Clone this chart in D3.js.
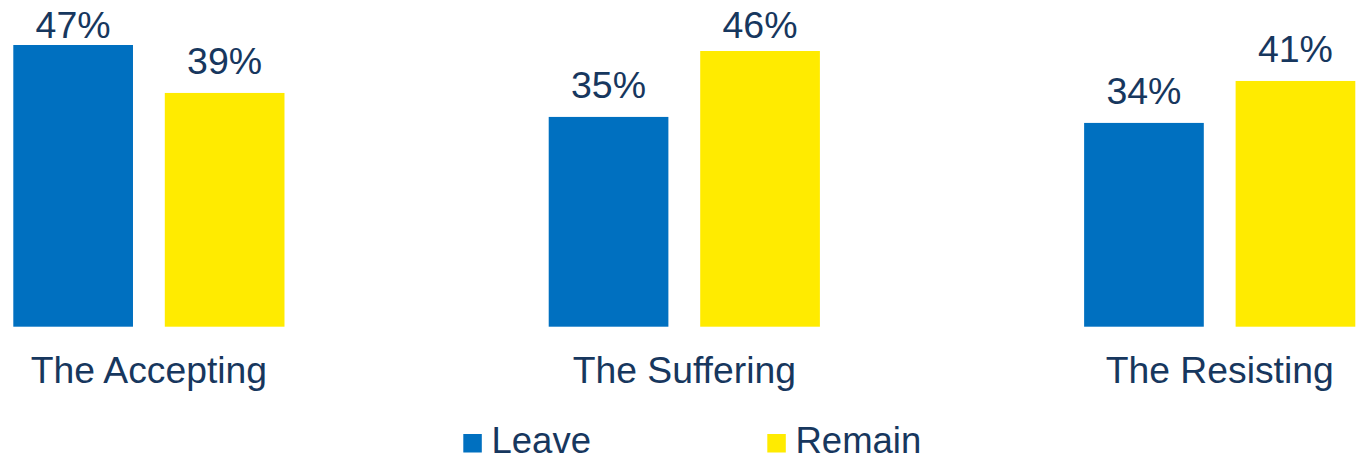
<!DOCTYPE html>
<html>
<head>
<meta charset="utf-8">
<script src="https://cdn.jsdelivr.net/npm/d3@7"></script>
<style>
  html, body { margin: 0; padding: 0; background: #fff; }
  svg { display: block; }
  text { font-family: "Liberation Sans", Arial, sans-serif; fill: #17375e; }
</style>
</head>
<body>
<svg id="chart" width="1361" height="457"></svg>
<script>
// Segments and their Leave / Remain shares (%)
const categories = ["The Accepting", "The Suffering", "The Resisting"];
const seriesNames = ["Leave", "Remain"];
const leaveValues = [47, 35, 34];
const remainValues = [39, 46, 41];
const seriesColors = ["#0070c0", "#ffeb00"];

const svg = d3.select("#chart");
const baseline = 326.7;
const labelTopLimit = 38.3;   // value labels never rise above this baseline

const x0 = d3.scaleBand()
  .domain(categories)
  .range([13.3, 1355.3])
  .paddingInner(0.4935)
  .paddingOuter(0);

const x1 = d3.scaleBand()
  .domain(seriesNames)
  .range([0, x0.bandwidth()])
  .paddingInner(0.21)
  .paddingOuter(0);

const y = d3.scaleLinear()
  .domain([0, 47])
  .range([baseline, 45]);

const rows = categories.map((c, i) => ({
  category: c,
  values: [
    { name: "Leave", value: leaveValues[i] },
    { name: "Remain", value: remainValues[i] }
  ]
}));

const color = d3.scaleOrdinal().domain(seriesNames).range(seriesColors);

const groups = svg.append("g").selectAll("g")
  .data(rows)
  .join("g")
  .attr("transform", d => `translate(${x0(d.category)},0)`);

groups.selectAll("rect")
  .data(d => d.values)
  .join("rect")
  .attr("x", d => x1(d.name))
  .attr("y", d => y(d.value))
  .attr("width", x1.bandwidth())
  .attr("height", d => baseline - y(d.value))
  .attr("fill", d => color(d.name));

groups.selectAll("text.value")
  .data(d => d.values)
  .join("text")
  .attr("class", "value")
  .attr("x", d => x1(d.name) + x1.bandwidth() / 2)
  .attr("y", d => Math.max(y(d.value) - 18.5, labelTopLimit))
  .attr("text-anchor", "middle")
  .style("font-size", "37.5px")
  .text(d => d.value + "%");

// Category axis labels
const xAxis = d3.axisBottom(x0).tickSize(0).tickPadding(0);
const axisG = svg.append("g")
  .attr("transform", `translate(0,${baseline})`)
  .call(xAxis);
axisG.select(".domain").remove();
axisG.selectAll("text")
  .attr("dy", null)
  .attr("y", 56.7)
  .style("font-size", "37.3px")
  .style("font-family", "'Liberation Sans', Arial, sans-serif")
  .attr("fill", "#17375e");

// Legend
const legendItems = [
  { name: "Leave", x: 463.3 },
  { name: "Remain", x: 767.3 }
];
const legend = svg.append("g").selectAll("g")
  .data(legendItems)
  .join("g")
  .attr("transform", d => `translate(${d.x},434)`);
legend.append("rect")
  .attr("width", 18.5)
  .attr("height", 18.5)
  .attr("fill", d => color(d.name));
legend.append("text")
  .attr("x", 28.2)
  .attr("y", 19.3)
  .style("font-size", "36.5px")
  .text(d => d.name);
</script>
</body>
</html>
